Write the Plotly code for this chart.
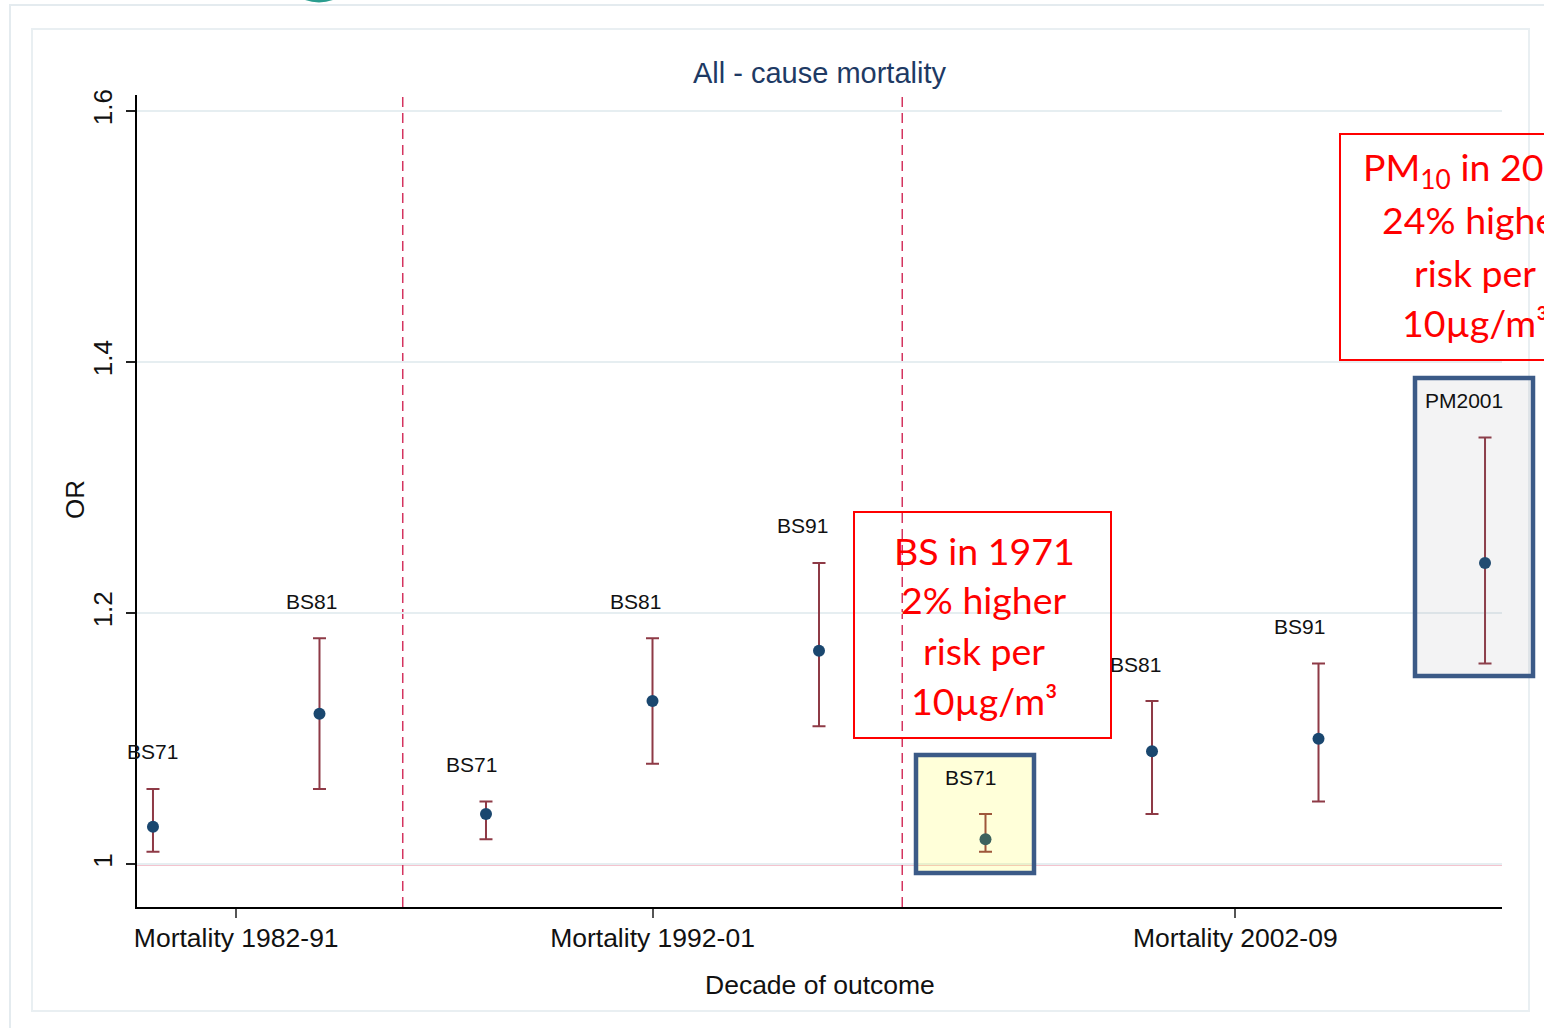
import plotly.graph_objects as go

# ---- data -------------------------------------------------------------
series_labels = ["BS71", "BS81", "BS71", "BS81", "BS91", "BS71", "BS81", "BS91", "PM2001"]
positions = [1, 2, 3, 4, 5, 6, 7, 8, 9]
odds_ratio = [1.03, 1.12, 1.04, 1.13, 1.17, 1.02, 1.09, 1.10, 1.24]
ci_lower = [1.01, 1.06, 1.02, 1.08, 1.11, 1.01, 1.04, 1.05, 1.16]
ci_upper = [1.06, 1.18, 1.05, 1.18, 1.24, 1.04, 1.13, 1.16, 1.34]

decade_ticks = [1.5, 4, 7.5]
decade_labels = ["Mortality 1982-91", "Mortality 1992-01", "Mortality 2002-09"]
decade_breaks = [2.5, 5.5]
or_ticks = [1, 1.2, 1.4, 1.6]
or_ticktext = ["1", "1.2", "1.4", "1.6"]

callout_bs = ["BS in 1971", "2% higher", "risk per", "10µg/m³"]
callout_pm = ["PM<sub>10</sub> in 2001", "24% higher", "risk per", "10µg/m³"]

# ---- layout geometry (pixels) ------------------------------------------
W, H = 1544, 1028
L, R, T, B = 137, 1502, 95, 907
label_dx = [0, -8, -14, -17, -17, -15, -17, -19, -21]

FONT = "Liberation Sans, Arial, sans-serif"
CALLOUT_FONT = "Lato, Carlito, Calibri, sans-serif"
NAVY = "#1a476f"
MAROON = "#8e3a46"
CRIMSON = "#d4123f"
BOX_BLUE = "#3b5a87"
FRAME = "#e4ebef"


def fx(px):
    return (px - L) / (R - L)


def fy(py):
    return (B - py) / (B - T)


err_plus = [u - m for u, m in zip(ci_upper, odds_ratio)]
err_minus = [m - l for m, l in zip(odds_ratio, ci_lower)]

fig = go.Figure()
fig.add_trace(go.Scatter(
    x=positions, y=odds_ratio, mode="markers",
    marker=dict(size=12, color=NAVY),
    error_y=dict(type="data", array=err_plus, arrayminus=err_minus,
                 color=MAROON, thickness=2, width=6.5),
    showlegend=False, hoverinfo="skip",
))

shapes = []
# outer panels
shapes.append(dict(type="rect", xref="paper", yref="paper",
                   x0=fx(10), x1=fx(1600), y0=fy(5), y1=fy(1100),
                   line=dict(color=FRAME, width=2), layer="below"))
shapes.append(dict(type="rect", xref="paper", yref="paper",
                   x0=fx(32), x1=fx(1529), y0=fy(29), y1=fy(1011),
                   line=dict(color="#e9eff2", width=2), layer="below"))
# teal badge peeking in at the top edge
shapes.append(dict(type="circle", xref="paper", yref="paper",
                   x0=fx(279), x1=fx(359), y0=fy(-78), y1=fy(2.5),
                   fillcolor="#2a9d8f", line=dict(width=0), layer="above"))
# reference line at OR = 1
shapes.append(dict(type="line", xref="paper", yref="y", x0=0, x1=1, y0=1, y1=1,
                   line=dict(color=CRIMSON, width=2), layer="between"))
# decade separators
for xb in decade_breaks:
    shapes.append(dict(type="line", xref="x", yref="paper", x0=xb, x1=xb, y0=0, y1=1,
                       line=dict(color="#d4345f", width=1.5, dash="10px,6px"),
                       layer="between"))
# highlight boxes
shapes.append(dict(type="rect", xref="paper", yref="paper",
                   x0=fx(916), x1=fx(1034), y0=fy(873), y1=fy(755),
                   fillcolor="rgba(255,255,0,0.15)",
                   line=dict(color=BOX_BLUE, width=4.5), layer="above"))
shapes.append(dict(type="rect", xref="paper", yref="paper",
                   x0=fx(1415), x1=fx(1533), y0=fy(676), y1=fy(378),
                   fillcolor="rgba(120,120,130,0.09)",
                   line=dict(color=BOX_BLUE, width=4.5), layer="above"))
# callout frames
shapes.append(dict(type="rect", xref="paper", yref="paper",
                   x0=fx(854), x1=fx(1111), y0=fy(738), y1=fy(512),
                   line=dict(color="#ff0000", width=2), layer="above"))
shapes.append(dict(type="rect", xref="paper", yref="paper",
                   x0=fx(1340), x1=fx(1610), y0=fy(360), y1=fy(134),
                   line=dict(color="#ff0000", width=2), layer="above"))

annotations = []
for xv, up, lab, dx in zip(positions, ci_upper, series_labels, label_dx):
    annotations.append(dict(x=xv, y=up, xref="x", yref="y", text=lab,
                            showarrow=False, xshift=dx, yshift=37,
                            xanchor="center", yanchor="middle",
                            font=dict(family=FONT, size=21, color="#111111")))

for text, cy in zip(callout_bs, [550, 599, 650, 701]):
    annotations.append(dict(x=fx(984), y=fy(cy), xref="paper", yref="paper",
                            text=text, showarrow=False,
                            xanchor="center", yanchor="middle",
                            font=dict(family=CALLOUT_FONT, size=37.5, color="#ff0000")))
for text, cy in zip(callout_pm, [170, 220, 272, 322]):
    annotations.append(dict(x=fx(1475), y=fy(cy), xref="paper", yref="paper",
                            text=text, showarrow=False,
                            xanchor="center", yanchor="middle",
                            font=dict(family=CALLOUT_FONT, size=37.5, color="#ff0000")))

# axis titles
annotations.append(dict(x=fx(75), y=fy(500), xref="paper", yref="paper",
                        text="OR", textangle=-90, showarrow=False,
                        xanchor="center", yanchor="middle",
                        font=dict(family=FONT, size=26, color="#111111")))
annotations.append(dict(x=fx(819.5), y=fy(985), xref="paper", yref="paper",
                        text="Decade of outcome", showarrow=False,
                        xanchor="center", yanchor="middle",
                        font=dict(family=FONT, size=26.5, color="#111111")))

fig.update_layout(
    width=W, height=H,
    margin=dict(l=L, r=W - R, t=T, b=H - B, pad=0),
    paper_bgcolor="white", plot_bgcolor="white",
    title=dict(text="All - cause mortality", x=0.5, xref="paper", xanchor="center",
               y=1 - 73 / H, yref="container", yanchor="middle",
               font=dict(family=FONT, size=29, color="#1e3a64")),
    shapes=shapes, annotations=annotations,
    xaxis=dict(range=[0.904, 9.102], tickvals=decade_ticks, ticktext=decade_labels,
               showgrid=False, zeroline=False, showline=True, linecolor="#000000",
               linewidth=1.5, ticks="outside", ticklen=9, tickcolor="#555555",
               tickwidth=1.5, ticklabelstandoff=-3,
               tickfont=dict(family=FONT, size=26.5, color="#111111")),
    yaxis=dict(range=[0.966, 1.6127], tickvals=or_ticks, ticktext=or_ticktext,
               showgrid=True, gridcolor="#e6eef1", gridwidth=2, zeroline=False,
               showline=True, linecolor="#000000", linewidth=1.5,
               ticks="outside", ticklen=9, tickcolor="#222222", tickwidth=1.5,
               tickangle=-90, ticklabelstandoff=4,
               tickfont=dict(family=FONT, size=26, color="#111111")),
)

fig.write_html("out.html")
